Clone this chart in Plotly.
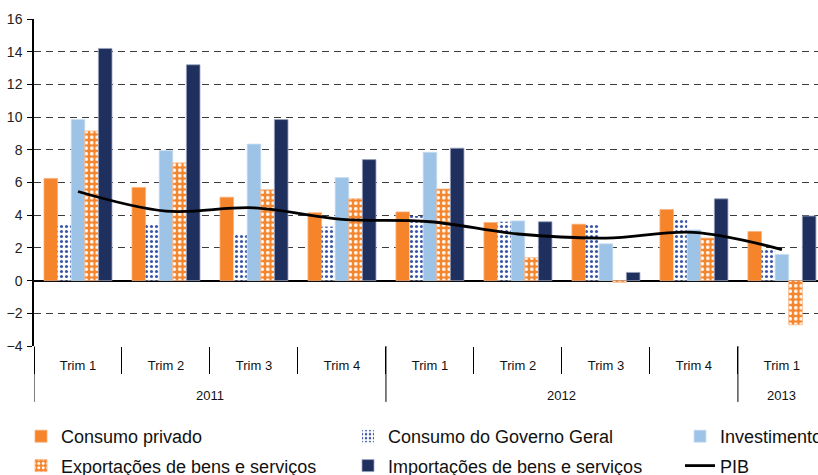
import plotly.graph_objects as go

years = ["2011"] * 4 + ["2012"] * 4 + ["2013"]
quarters = ["Trim 1", "Trim 2", "Trim 3", "Trim 4", "Trim 1", "Trim 2", "Trim 3", "Trim 4", "Trim 1"]

consumo_privado = [6.25, 5.7, 5.1, 4.15, 4.2, 3.55, 3.45, 4.35, 3.0]
consumo_governo = [3.4, 3.4, 2.8, 3.3, 3.95, 3.6, 3.4, 3.8, 1.95]
investimento = [9.85, 7.95, 8.35, 6.3, 7.85, 3.65, 2.25, 3.1, 1.6]
exportacoes = [9.15, 7.2, 5.55, 5.0, 5.6, 1.4, -0.1, 2.6, -2.7]
importacoes = [14.2, 13.2, 9.85, 7.4, 8.1, 3.6, 0.5, 5.0, 3.95]
pib = [5.45, 4.25, 4.45, 3.75, 3.6, 2.85, 2.6, 2.95, 1.9]

y_ticks = [-4, -2, 0, 2, 4, 6, 8, 10, 12, 14, 16]

ORANGE = "#F5842A"
LIGHTBLUE = "#9DC3E6"
NAVY = "#1F2F5E"
DOTBLUE = "#3A56A6"
FONT = "Liberation Sans, Arial, sans-serif"

# category positions on the axis
pos = list(range(len(quarters)))
boundaries = [p - 0.5 for p in pos] + [pos[-1] + 0.5]
year_names = list(dict.fromkeys(years))
year_centers = [sum(p for p, y in zip(pos, years) if y == yr) / years.count(yr) for yr in year_names]
year_starts = [min(p for p, y in zip(pos, years) if y == yr) - 0.5 for yr in year_names]

fig = go.Figure()
fig.add_trace(go.Bar(
    x=pos, y=consumo_privado, name="Consumo privado", legend="legend", legendgroup="a",
    marker=dict(color=ORANGE, line=dict(color="#F8B07C", width=0.8)),
))
fig.add_trace(go.Bar(
    x=pos, y=consumo_governo, name="Consumo do Governo Geral", legend="legend2", legendgroup="b",
    marker=dict(color="white", line=dict(width=0),
                pattern=dict(shape=".", fgcolor=DOTBLUE, bgcolor="white",
                             size=5, solidity=0.3, fillmode="replace")),
))
fig.add_trace(go.Bar(
    x=pos, y=investimento, name="Investimento", legend="legend3", legendgroup="c",
    marker=dict(color=LIGHTBLUE, line=dict(color="#C9DEF2", width=0.8)),
))
fig.add_trace(go.Bar(
    x=pos, y=exportacoes, name="Exportações de bens e serviços", legend="legend", legendgroup="d",
    marker=dict(color=ORANGE, line=dict(color="#F8B07C", width=0.8),
                pattern=dict(shape=".", fgcolor="white", bgcolor=ORANGE,
                             size=5.5, solidity=0.35, fillmode="replace")),
))
fig.add_trace(go.Bar(
    x=pos, y=importacoes, name="Importações de bens e serviços", legend="legend2", legendgroup="e",
    marker=dict(color=NAVY, line=dict(color="#9AA4BE", width=0.8)),
))
fig.add_trace(go.Scatter(
    x=pos, y=pib, name="PIB", legend="legend3", legendgroup="f", mode="lines",
    line=dict(color="black", width=2.8, shape="spline", smoothing=1.0),
))

legend_common = dict(
    orientation="v", xref="container", yref="container",
    xanchor="left", yanchor="top", y=0.12,
    font=dict(family=FONT, size=18, color="#111"),
    bgcolor="rgba(0,0,0,0)", borderwidth=0,
    itemwidth=30, tracegroupgap=3, traceorder="grouped",
)

shapes = [
    dict(type="line", xref="x", yref="paper", x0=xs, x1=xs, y0=0, y1=-0.171,
         line=dict(color="black", width=1))
    for xs in year_starts
]
annotations = [
    dict(text=yr, x=xc, xref="x", y=-0.150, yref="paper", yanchor="middle",
         showarrow=False, font=dict(family=FONT, size=13, color="#111"))
    for yr, xc in zip(year_names, year_centers)
]

fig.update_layout(
    width=818, height=475,
    margin=dict(l=34, r=0, t=19, b=129, autoexpand=False),
    paper_bgcolor="white", plot_bgcolor="white",
    barmode="group", bargap=0.227, bargroupgap=0,
    font=dict(family=FONT, size=14, color="#222"),
    showlegend=True,
    legend=dict(legend_common, x=21 / 818),
    legend2=dict(legend_common, x=348 / 818),
    legend3=dict(legend_common, x=680 / 818),
    shapes=shapes,
    annotations=annotations,
    xaxis=dict(
        range=[-0.5, 8.41],
        tickmode="array", tickvals=pos, ticktext=quarters,
        ticks="", ticklabelstandoff=10,
        showgrid=False, showline=False, zeroline=False,
        minor=dict(tickmode="array", tickvals=boundaries, ticks="outside",
                   ticklen=27, tickcolor="black", tickwidth=1, showgrid=False),
        tickfont=dict(family=FONT, size=13, color="#111"),
    ),
    yaxis=dict(
        range=[-4, 16], tickvals=y_ticks,
        showline=True, linecolor="black", linewidth=1.5,
        ticks="outside", ticklen=5, tickcolor="black", tickwidth=1,
        ticklabelstandoff=2,
        showgrid=True, gridcolor="#3c3c3c", gridwidth=1, griddash="7px,5px",
        zeroline=True, zerolinecolor="black", zerolinewidth=1.8,
        tickfont=dict(family=FONT, size=14, color="#222"),
    ),
)

fig.write_html(
    "out.html",
    config={"displayModeBar": False},
    post_script="document.body.style.margin='0px';document.body.style.overflow='hidden';",
)
